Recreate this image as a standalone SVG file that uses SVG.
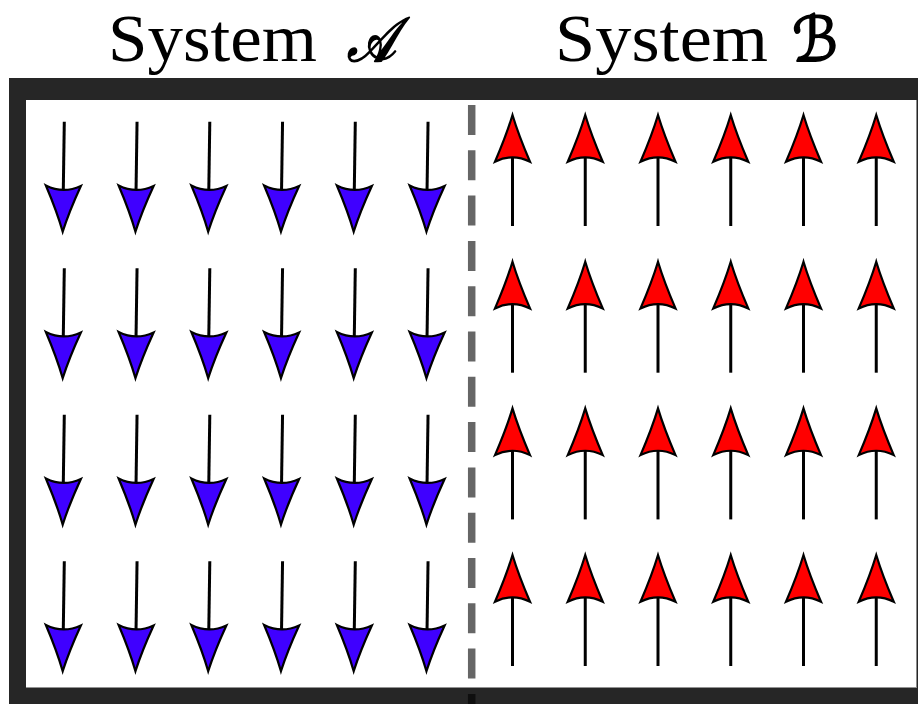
<svg xmlns="http://www.w3.org/2000/svg" width="918" height="704" viewBox="0 0 918 704">
  <style>
    .title { font-family: "Liberation Serif", "DejaVu Serif", serif; font-size: 67px; fill: #000; }
    .script { font-family: "DejaVu Sans", "Noto Sans", "DejaVu Serif", serif; font-style: italic; font-size: 62px; fill: #000; stroke: #000; stroke-width: 1.8; stroke-linejoin: round; }
    .shaft { stroke: #000; stroke-width: 3; stroke-linecap: butt; fill: none; }
    .head { stroke: #000; stroke-width: 2.2; stroke-linejoin: miter; }
    .blue { fill: #3f00ff; }
    .red { fill: #ff0000; }
  </style>
  <defs>
    <!-- spin pointing down, tip at origin -->
    <g id="spin-down">
      <line class="shaft" x1="0" y1="-110" x2="0" y2="-42"/>
      <path class="head blue" d="M0,0 Q-6,-20 -17.5,-46 Q0,-37.5 17.5,-46 Q6,-20 0,0 Z"/>
    </g>
    <!-- spin pointing up, tip at origin -->
    <g id="spin-up">
      <line class="shaft" x1="0" y1="42" x2="0" y2="111"/>
      <path class="head red" d="M0,0 Q6,20 17.5,46.7 Q0,38 -17.5,46.7 Q-6,20 0,0 Z"/>
    </g>
  </defs>

  <rect width="918" height="704" fill="#fff"/>

  <!-- headings -->
  <g id="label-a">
    <text class="title" x="108" y="60.5" textLength="209" lengthAdjust="spacingAndGlyphs">System</text>
    <text class="script" x="347" y="61" textLength="49" lengthAdjust="spacingAndGlyphs">𝒜</text>
  </g>
  <g id="label-b">
    <text class="title" x="555" y="60.5" textLength="213" lengthAdjust="spacingAndGlyphs">System</text>
    <text class="script" x="792" y="61" textLength="46" lengthAdjust="spacingAndGlyphs">ℬ</text>
  </g>

  <!-- container frame -->
  <g id="frame">
    <path fill="#262626" fill-rule="evenodd" d="M9,78 H930 V720 H9 Z M26,100 V687.5 H916 V100 Z"/>
    <line x1="916.5" y1="100" x2="916.5" y2="688" stroke="#8a8a8a" stroke-width="1"/>
  </g>

  <!-- system A: spins down -->
  <g id="system-a">
    <use href="#spin-down" transform="translate(62.7,231.7) rotate(0.83)"/>
    <use href="#spin-down" transform="translate(135.45,231.7) rotate(0.83)"/>
    <use href="#spin-down" transform="translate(208.2,231.7) rotate(0.83)"/>
    <use href="#spin-down" transform="translate(280.95,231.7) rotate(0.83)"/>
    <use href="#spin-down" transform="translate(353.7,231.7) rotate(0.83)"/>
    <use href="#spin-down" transform="translate(426.45,231.7) rotate(0.83)"/>

    <use href="#spin-down" transform="translate(62.7,378.2) rotate(0.83)"/>
    <use href="#spin-down" transform="translate(135.45,378.2) rotate(0.83)"/>
    <use href="#spin-down" transform="translate(208.2,378.2) rotate(0.83)"/>
    <use href="#spin-down" transform="translate(280.95,378.2) rotate(0.83)"/>
    <use href="#spin-down" transform="translate(353.7,378.2) rotate(0.83)"/>
    <use href="#spin-down" transform="translate(426.45,378.2) rotate(0.83)"/>

    <use href="#spin-down" transform="translate(62.7,524.7) rotate(0.83)"/>
    <use href="#spin-down" transform="translate(135.45,524.7) rotate(0.83)"/>
    <use href="#spin-down" transform="translate(208.2,524.7) rotate(0.83)"/>
    <use href="#spin-down" transform="translate(280.95,524.7) rotate(0.83)"/>
    <use href="#spin-down" transform="translate(353.7,524.7) rotate(0.83)"/>
    <use href="#spin-down" transform="translate(426.45,524.7) rotate(0.83)"/>

    <use href="#spin-down" transform="translate(62.7,671.2) rotate(0.83)"/>
    <use href="#spin-down" transform="translate(135.45,671.2) rotate(0.83)"/>
    <use href="#spin-down" transform="translate(208.2,671.2) rotate(0.83)"/>
    <use href="#spin-down" transform="translate(280.95,671.2) rotate(0.83)"/>
    <use href="#spin-down" transform="translate(353.7,671.2) rotate(0.83)"/>
    <use href="#spin-down" transform="translate(426.45,671.2) rotate(0.83)"/>
  </g>

  <!-- system B: spins up -->
  <g id="system-b">
    <use href="#spin-up" transform="translate(512.5,115)"/>
    <use href="#spin-up" transform="translate(585.25,115)"/>
    <use href="#spin-up" transform="translate(658,115)"/>
    <use href="#spin-up" transform="translate(730.75,115)"/>
    <use href="#spin-up" transform="translate(803.5,115)"/>
    <use href="#spin-up" transform="translate(876.25,115)"/>

    <use href="#spin-up" transform="translate(512.5,261.7)"/>
    <use href="#spin-up" transform="translate(585.25,261.7)"/>
    <use href="#spin-up" transform="translate(658,261.7)"/>
    <use href="#spin-up" transform="translate(730.75,261.7)"/>
    <use href="#spin-up" transform="translate(803.5,261.7)"/>
    <use href="#spin-up" transform="translate(876.25,261.7)"/>

    <use href="#spin-up" transform="translate(512.5,408.4)"/>
    <use href="#spin-up" transform="translate(585.25,408.4)"/>
    <use href="#spin-up" transform="translate(658,408.4)"/>
    <use href="#spin-up" transform="translate(730.75,408.4)"/>
    <use href="#spin-up" transform="translate(803.5,408.4)"/>
    <use href="#spin-up" transform="translate(876.25,408.4)"/>

    <use href="#spin-up" transform="translate(512.5,555)"/>
    <use href="#spin-up" transform="translate(585.25,555)"/>
    <use href="#spin-up" transform="translate(658,555)"/>
    <use href="#spin-up" transform="translate(730.75,555)"/>
    <use href="#spin-up" transform="translate(803.5,555)"/>
    <use href="#spin-up" transform="translate(876.25,555)"/>
  </g>

  <!-- partition between the two systems -->
  <g id="connectors">
    <line x1="471.7" y1="105" x2="471.7" y2="704" stroke="#000" stroke-opacity="0.6" stroke-width="7.5" stroke-dasharray="30 15.3"/>
  </g>
</svg>
